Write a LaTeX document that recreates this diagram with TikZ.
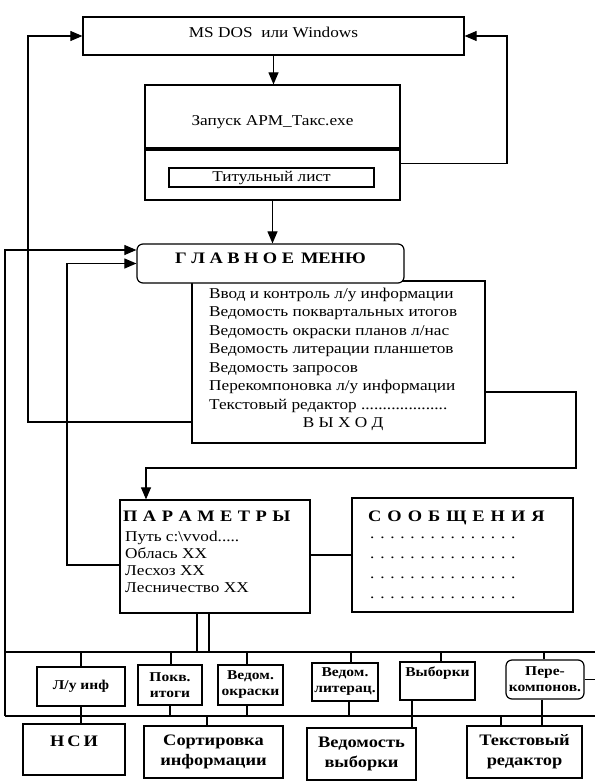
\documentclass[tikz,border=0pt]{standalone}
\usepackage{fontspec}
\setmainfont{Liberation Serif}[FakeStretch=1.15]
\usetikzlibrary{arrows.meta}
\newcommand{\rbx}[2]{\raisebox{#1}[0pt][0pt]{#2}}
\begin{document}
\begin{tikzpicture}[x=1pt,y=-1pt,
  box/.style={draw,line width=1.2pt,inner sep=0pt,align=center,fill=white},
  rbox/.style={box,rounded corners=6pt},
  ln/.style={line width=1.1pt},
  arr/.style={line width=1.1pt,-{Triangle[length=12pt,width=10pt]}},
  normtxt/.style={font=\fontsize{15}{18}\selectfont},
  smalltxt/.style={font=\bfseries\fontsize{13.5}{16}\selectfont},
  bigtxt/.style={font=\bfseries\fontsize{16}{20}\selectfont},
  ttltxt/.style={font=\bfseries\fontsize{16}{18}\selectfont}]

\fill[white] (0,0) rectangle (595,784);
\useasboundingbox (0,0) rectangle (595,784);

% guide coordinates
\coordinate (xL1) at (28,0);
\coordinate (xL2) at (67,0);
\coordinate (xR1) at (507,0);
\coordinate (xR2) at (576,0);
\coordinate (xE) at (595,0);
\coordinate (yP) at (0,468);
\coordinate (bt0) at (5,652);
\coordinate (bt1) at (595,652);
\coordinate (bb0) at (5,716);
\coordinate (bb1) at (595,716);

% top part
\node[box,normtxt,minimum width=381pt,minimum height=38pt] (dos) at (273.5,36) {\rbx{-1.5pt}{MS DOS\ \ или Windows}};
\node[box,normtxt,minimum width=255pt,minimum height=63pt] (zap) at (272.5,116.5) {\rbx{-9pt}{Запуск АРМ\_Такс.exe}};
\node[box,minimum width=255pt,minimum height=50pt] (tito) at (272.5,175) {};
\node[box,normtxt,minimum width=205pt,minimum height=19pt] (titi) at (271.5,177.5) {\rbx{-4pt}{Титульный лист}};

% main menu
\node[box,minimum width=293pt,minimum height=162pt] (items) at (338.5,362) {};
\node[rbox,ttltxt,minimum width=267pt,minimum height=39pt] (menu) at (270.5,263.5) {\rbx{0pt}{\spaceskip=4.5pt Г Л А В Н О Е\hspace{7pt}МЕНЮ}};
\node[anchor=base west,inner sep=0pt,font=\fontsize{15}{18.5}\selectfont] (itemstext) at (209,298) {\begin{tabular}[t]{@{}l@{}}
Ввод и контроль л/у информации\\
Ведомость поквартальных итогов\\
Ведомость окраски планов л/нас\\
Ведомость литерации планшетов\\
Ведомость запросов\\
Перекомпоновка л/у информации\\
Текстовый редактор ....................\\
\multicolumn{1}{@{\hspace{20pt}}c@{}}{В Ы Х О Д}
\end{tabular}};

% parameters and messages
\node[box,minimum width=190pt,minimum height=113pt] (par) at (215,556.5) {};
\node[ttltxt,anchor=base west,inner sep=0pt] (partitle) at (123,521) {\spaceskip=5.5pt П А Р А М Е Т Р Ы};
\node[anchor=base west,inner sep=0pt,font=\fontsize{15}{17.3}\selectfont] (parbody) at (125,541) {\begin{tabular}[t]{@{}l@{}}
Путь c:\textbackslash vvod.....\\
Облась XX\\
Лесхоз XX\\
Лесничество XX
\end{tabular}};

\node[box,minimum width=221pt,minimum height=114pt] (msg) at (462.5,555) {};
\node[ttltxt,anchor=base west,inner sep=0pt] (msgtitle) at (368,521) {\spaceskip=6pt С О О Б Щ Е Н И Я};
\node[anchor=base west,inner sep=0pt,font=\fontsize{15}{20.3}\selectfont] (msgbody) at (370,538) {\begin{tabular}[t]{@{}l@{}}
. . . . . . . . . . . . . . .\\
. . . . . . . . . . . . . . .\\
. . . . . . . . . . . . . . .\\
. . . . . . . . . . . . . . .
\end{tabular}};

% small boxes
\node[box,smalltxt,minimum width=88pt,minimum height=39pt] (lu) at (81,686.5) {Л/у инф};
\node[box,smalltxt,minimum width=64pt,minimum height=40pt] (pokv) at (170,685) {Покв.\\итоги};
\node[box,smalltxt,minimum width=65pt,minimum height=40pt] (okr) at (250.5,685) {Ведом.\\окраски};
\node[box,smalltxt,minimum width=66pt,minimum height=38pt] (lit) at (345,682) {Ведом.\\литерац.};
\node[box,smalltxt,minimum width=75pt,minimum height=38pt] (vyb) at (437.5,681) {\rbx{5pt}{Выборки}};
\node[rbox,smalltxt,minimum width=78pt,minimum height=39pt] (perek) at (545,679.5) {Пере-\\компонов.};

% big boxes
\node[box,bigtxt,minimum width=102pt,minimum height=51pt] (nsi) at (74,749.5) {\rbx{3.5pt}{Н\hspace{3pt}С\hspace{3pt}И}};
\node[box,bigtxt,minimum width=139pt,minimum height=52pt] (sort) at (213.5,752) {Сортировка\\информации};
\node[box,bigtxt,minimum width=109pt,minimum height=52pt] (vedv) at (361.5,754) {Ведомость\\выборки};
\node[box,bigtxt,minimum width=115pt,minimum height=52pt] (tred) at (524.5,752) {Текстовый\\редактор};

% connectors, top part
\draw[arr] (dos.south) -- (dos.south |- zap.north);
\draw[arr] (tito.south) -- (tito.south |- menu.north);
\coordinate (tE) at ([yshift=11.5pt]tito.east);
\draw[arr] (tE) -- (tE -| xR1) -- (xR1 |- dos.east) -- (dos.east);
\coordinate (iW) at ([yshift=-60pt]items.west);
\draw[arr] (iW) -- (iW -| xL1) -- (xL1 |- dos.west) -- (dos.west);
\coordinate (iE) at ([yshift=-30pt]items.east);
\coordinate (pN) at ([xshift=-69pt]par.north);
\draw[arr] (iE) -- (iE -| xR2) -- (xR2 |- yP) -- (yP -| pN) -- (pN);
\coordinate (pW) at ([yshift=-8.5pt]par.west);
\draw[arr] (pW) -- (pW -| xL2) -- (xL2 |- menu.west) -- (menu.west);
\coordinate (mW1) at ([yshift=13.5pt]menu.west);
\draw[arr] (bb0) -- (bb0 |- mW1) -- (mW1);
\draw[ln] (par.east |- msg.west) -- (msg.west);

% buses
\draw[ln] (bt0) -- (bt1);
\draw[ln] (bb0) -- (bb1);
\coordinate (pS1) at ([xshift=-18pt]par.south);
\coordinate (pS2) at ([xshift=-6pt]par.south);
\draw[ln] (pS1) -- (pS1 |- bt0);
\draw[ln] (pS2) -- (pS2 |- bt0);

% lower connectors
\draw[ln] (lu.north) -- (lu.north |- bt0);
\draw[ln] (lu.south) -- (lu.south |- nsi.north);
\coordinate (a1) at ([xshift=1pt]pokv.north);
\draw[ln] (a1) -- (a1 |- bt0);
\draw[ln] (pokv.south) -- (pokv.south |- bb0);
\coordinate (a2) at ([xshift=-3.5pt]okr.north);
\draw[ln] (a2) -- (a2 |- bt0);
\coordinate (a3) at ([xshift=-3.5pt]okr.south);
\draw[ln] (a3) -- (a3 |- bb0);
\coordinate (a4) at ([xshift=-6.5pt]sort.north);
\draw[ln] (a4) -- (a4 |- bb0);
\coordinate (a5) at ([xshift=6pt]lit.north);
\draw[ln] (a5) -- (a5 |- bt0);
\coordinate (a6) at ([xshift=4pt]lit.south);
\draw[ln] (a6) -- (a6 |- bb0);
\coordinate (a7) at ([xshift=3.5pt]vyb.north);
\draw[ln] (a7) -- (a7 |- bt0);
\coordinate (a8) at ([xshift=-25.5pt]vyb.south);
\draw[ln] (a8) -- (a8 |- vedv.north);
\coordinate (a9) at ([xshift=-1pt]perek.north);
\draw[ln] (a9) -- (a9 |- bt0);
\coordinate (a10) at ([xshift=-3pt]perek.south);
\draw[ln] (a10) -- (a10 |- tred.north);
\draw[ln] (perek.east) -- (perek.east -| xE);
\coordinate (a11) at ([xshift=-23.5pt]tred.north);
\draw[ln] (a11) -- (a11 |- bb0);
\end{tikzpicture}
\end{document}
